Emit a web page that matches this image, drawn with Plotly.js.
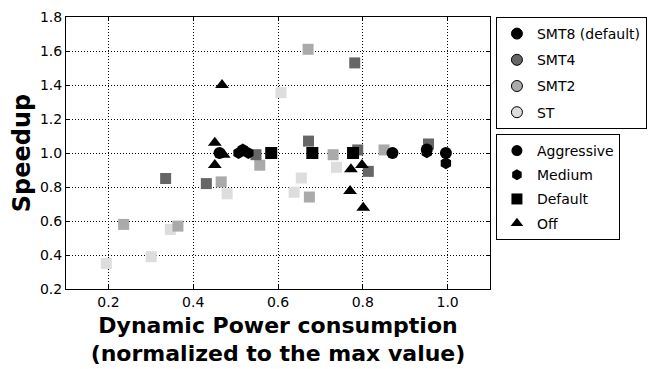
<!DOCTYPE html>
<html><head><meta charset="utf-8">
<script src="https://cdn.plot.ly/plotly-3.0.1.min.js"></script>
<style>html,body{margin:0;padding:0;background:#fff}</style>
</head><body><div id="chart" style="width:659px;height:369px"></div>
<script>
// SMT8 (default) series, black, by prefetch setting
const smt8AggrX = [0.462, 0.870, 0.951, 0.996];
const smt8AggrY = [1.00, 1.00, 1.02, 1.00];
const smt8MedX = [0.507, 0.517, 0.530, 0.951, 0.996];
const smt8MedY = [1.00, 1.02, 1.00, 1.005, 0.94];
const smt8DefX = [0.584, 0.681, 0.777];
const smt8DefY = [1.00, 1.00, 1.00];
const smt8OffX = [0.451, 0.451, 0.472, 0.468, 0.772, 0.770, 0.798, 0.801];
const smt8OffY = [1.06, 0.93, 0.99, 1.40, 0.905, 0.776, 0.93, 0.678];
// SMT4, SMT2, ST (Default prefetch, squares)
const smt4X = [0.335, 0.431, 0.548, 0.672, 0.781, 0.788, 0.813, 0.955];
const smt4Y = [0.85, 0.82, 0.99, 1.07, 1.53, 1.018, 0.892, 1.053];
const smt2X = [0.236, 0.364, 0.466, 0.557, 0.671, 0.674, 0.730, 0.850];
const smt2Y = [0.58, 0.57, 0.83, 0.928, 1.61, 0.741, 0.99, 1.018];
const stX = [0.195, 0.301, 0.346, 0.480, 0.607, 0.638, 0.655, 0.738];
const stY = [0.35, 0.39, 0.55, 0.76, 1.355, 0.769, 0.853, 0.916];

const smtNames = ["SMT8 (default)", "SMT4", "SMT2", "ST"];
const smtColors = ["#000000", "#666666", "#aaaaaa", "#dddddd"];
const prefNames = ["Aggressive", "Medium", "Default", "Off"];
const prefSymbols = ["circle", "hexagon", "square", "triangle-up"];
const xTicks = [0.2, 0.4, 0.6, 0.8, 1.0];
const xTickText = ["0.2", "0.4", "0.6", "0.8", "1.0"];
const yTicks = [0.2, 0.4, 0.6, 0.8, 1.0, 1.2, 1.4, 1.6, 1.8];
const yTickText = ["0.2", "0.4", "0.6", "0.8", "1.0", "1.2", "1.4", "1.6", "1.8"];

const F = "DejaVu Sans, sans-serif";
function pts(x, y, color, symbol, size) {
  return {x: x, y: y, type: "scatter", mode: "markers", showlegend: false, hoverinfo: "skip",
    marker: {color: color, symbol: symbol, size: size, line: {width: 0}}};
}
const traces = [
  pts(stX, stY, smtColors[3], "square", 11),
  pts(smt2X, smt2Y, smtColors[2], "square", 11),
  pts(smt4X, smt4Y, smtColors[1], "square", 11),
  pts(smt8DefX, smt8DefY, smtColors[0], "square", 12),
  pts(smt8MedX, smt8MedY, smtColors[0], "hexagon", 12),
  pts(smt8AggrX, smt8AggrY, smtColors[0], "circle", 12),
  pts(smt8OffX, smt8OffY, smtColors[0], "triangle-up", 12)
];
smtNames.forEach((n, i) => traces.push({x: [null], y: [null], type: "scatter", mode: "markers", name: n,
  legend: "legend", legendgroup: "a" + i,
  marker: {color: smtColors[i], symbol: "circle", size: 11, line: {color: "#000", width: 1}}}));
prefNames.forEach((n, i) => traces.push({x: [null], y: [null], type: "scatter", mode: "markers", name: n,
  legend: "legend2", legendgroup: "b" + i,
  marker: {color: "#000", symbol: prefSymbols[i], size: 11, line: {width: 0}}}));

const ax = {showline: true, linecolor: "#000", linewidth: 1, mirror: "ticks", ticks: "inside", ticklen: 4,
  tickcolor: "#000", showgrid: true, gridcolor: "#000", griddash: "1px,2px", gridwidth: 1, zeroline: false,
  tickfont: {family: F, size: 14, color: "#000"}};
const layout = {
  width: 659, height: 369, margin: {l: 66, r: 166, t: 17, b: 80},
  paper_bgcolor: "#fff", plot_bgcolor: "#fff", font: {family: F},
  xaxis: Object.assign({}, ax, {range: [0.1, 1.1], tickvals: xTicks, ticktext: xTickText,
    title: {text: "<b>Dynamic Power consumption<br>(normalized to the max value)</b>", font: {family: F, size: 22, color: "#000"}, standoff: 8}}),
  yaxis: Object.assign({}, ax, {range: [0.2, 1.8], tickvals: yTicks, ticktext: yTickText,
    title: {text: "<b>Speedup</b>", font: {family: F, size: 24, color: "#000"}, standoff: 2}}),
  legend: {x: 1.014, xanchor: "left", y: 1, yanchor: "top", bordercolor: "#000", borderwidth: 1,
    font: {family: F, size: 14, color: "#000"}, tracegroupgap: 5, bgcolor: "#fff"},
  legend2: {x: 1.014, xanchor: "left", y: 0.57, yanchor: "top", bordercolor: "#000", borderwidth: 1,
    font: {family: F, size: 14, color: "#000"}, tracegroupgap: 3, bgcolor: "#fff"}
};
Plotly.newPlot("chart", traces, layout, {displayModeBar: false, staticPlot: true});
</script></body></html>
